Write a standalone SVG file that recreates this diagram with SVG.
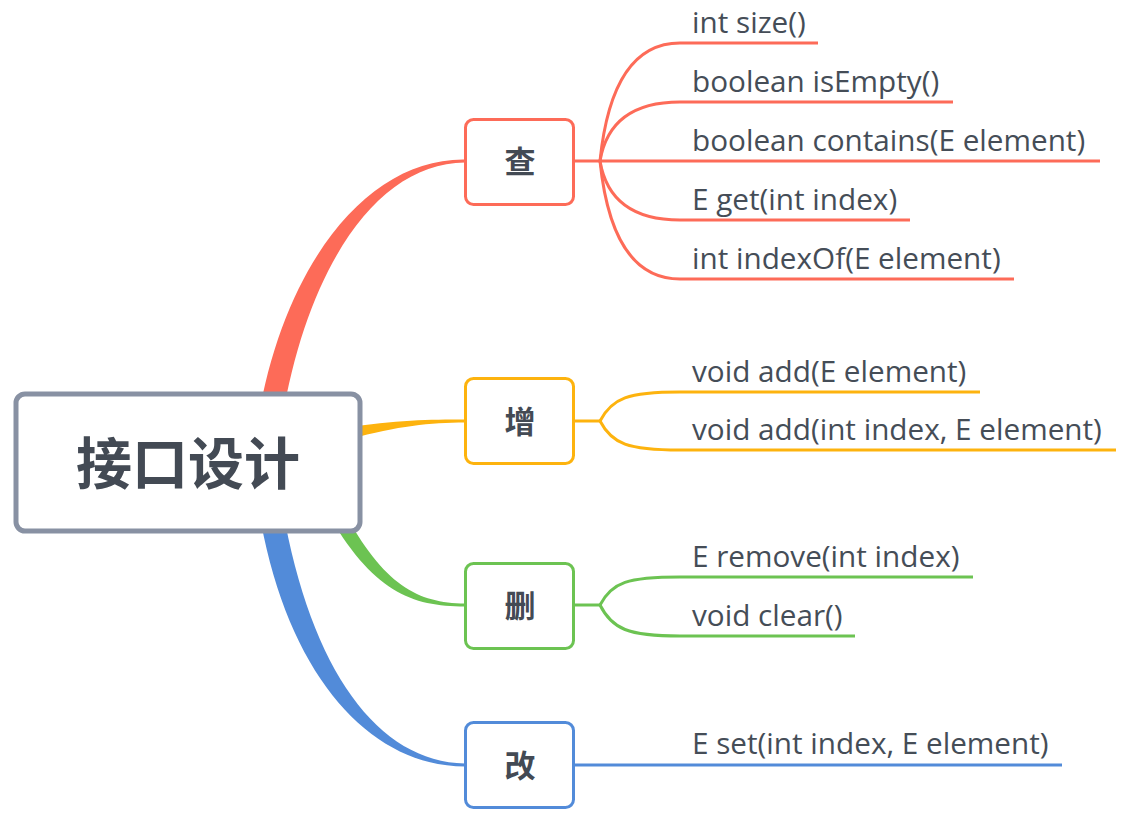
<svg xmlns="http://www.w3.org/2000/svg" width="1129" height="816" viewBox="0 0 1129 816">
  <style>
    .lbl { font-family: "Open Sans", "Liberation Sans", sans-serif; font-size: 29.7px; fill: #454d57; }
    .cjk { font-family: "Noto Sans CJK SC", "Noto Sans", sans-serif; font-weight: bold; fill: #434a54; text-anchor: middle; }
    .node { fill: #ffffff; stroke-width: 3; }
    .sub { fill: none; stroke-width: 3; }
    .red { stroke: #fd6b58; }
    .yellow { stroke: #fdb30e; }
    .green { stroke: #6cc352; }
    .blue { stroke: #528bd9; }
  </style>

  <g id="connectors">
    <!-- main tapered branches -->
    <path fill="#fd6b58" d="M258 420 C 285 260, 370 158, 465 159.5 L 465 162.5 C 378 163, 308 265, 282 420 Z"/>
    <path fill="#fdb30e" d="M345 428 C 395 420, 430 419.5, 465 419.5 L 465 422.5 C 430 422.5, 398 426, 350 439 Z"/>
    <path fill="#6cc352" d="M326 510 C 372 592, 412 606.5, 465 606.5 L 465 603.5 C 418 603, 384 586, 343 510 Z"/>
    <path fill="#528bd9" d="M258 505 C 285 675, 370 766.5, 465 766.5 L 465 763.5 C 378 762, 310 670, 282 505 Z"/>

    <!-- 查 children -->
    <g class="sub red">
      <path d="M574 161 H 1100"/>
      <path d="M600 161 Q 612 43 680 43 H 818"/>
      <path d="M600 161 Q 610 102 680 102 H 953"/>
      <path d="M600 161 Q 610 220 680 220 H 910"/>
      <path d="M600 161 Q 612 279 680 279 H 1014"/>
    </g>
    <!-- 增 children -->
    <g class="sub yellow">
      <path d="M574 421 H 600"/>
      <path d="M600 421 C 612 398, 628 392, 680 392 H 980"/>
      <path d="M600 421 C 612 444, 628 450, 680 450 H 1116"/>
    </g>
    <!-- 删 children -->
    <g class="sub green">
      <path d="M574 605 H 600"/>
      <path d="M600 605 C 612 582, 628 577, 680 577 H 973"/>
      <path d="M600 605 C 612 629, 628 636, 680 636 H 855"/>
    </g>
    <!-- 改 child -->
    <g class="sub blue">
      <path d="M574 765 H 1062"/>
    </g>
  </g>

  <g id="root">
    <rect x="16" y="394" width="344" height="137" rx="9" fill="#ffffff" stroke="#8891a3" stroke-width="5"/>
    <text class="cjk" x="188" y="484" font-size="56">接口设计</text>
  </g>

  <g id="node-cha">
    <rect class="node red" x="465.5" y="119.5" width="108" height="85" rx="8"/>
    <text class="cjk" x="520" y="173" font-size="31">查</text>
  </g>
  <g id="node-zeng">
    <rect class="node yellow" x="465.5" y="378.5" width="108" height="85" rx="8"/>
    <text class="cjk" x="520" y="433" font-size="31">增</text>
  </g>
  <g id="node-shan">
    <rect class="node green" x="465.5" y="563.5" width="108" height="85" rx="8"/>
    <text class="cjk" x="520" y="617" font-size="31">删</text>
  </g>
  <g id="node-gai">
    <rect class="node blue" x="465.5" y="722.5" width="108" height="85" rx="8"/>
    <text class="cjk" x="520" y="777" font-size="31">改</text>
  </g>

  <g id="leaf-labels">
    <text class="lbl" x="692" y="33">int size()</text>
    <text class="lbl" x="692" y="92">boolean isEmpty()</text>
    <text class="lbl" x="692" y="151">boolean contains(E element)</text>
    <text class="lbl" x="692" y="210">E get(int index)</text>
    <text class="lbl" x="692" y="269">int indexOf(E element)</text>
    <text class="lbl" x="692" y="382">void add(E element)</text>
    <text class="lbl" x="692" y="440">void add(int index, E element)</text>
    <text class="lbl" x="692" y="567">E remove(int index)</text>
    <text class="lbl" x="692" y="625.5">void clear()</text>
    <text class="lbl" x="692" y="754">E set(int index, E element)</text>
  </g>
</svg>
